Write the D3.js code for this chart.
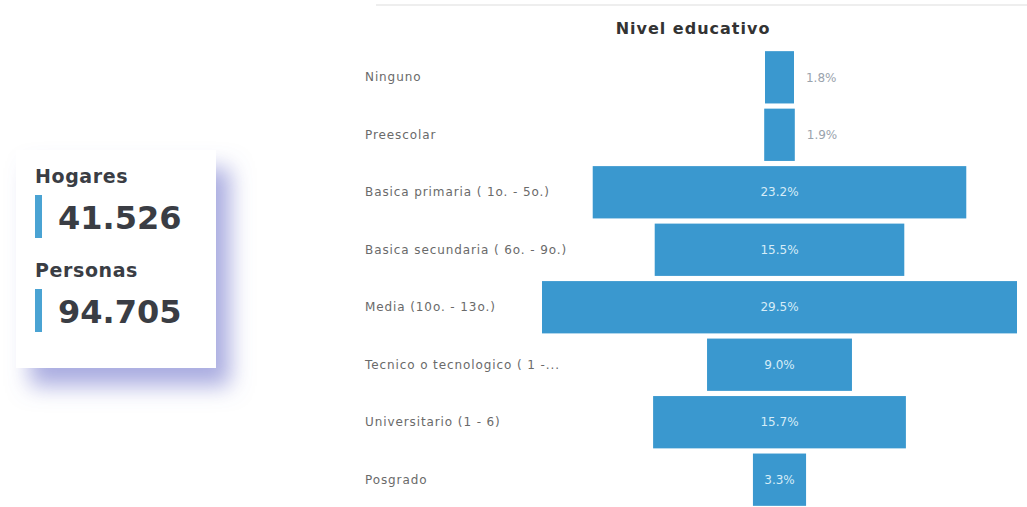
<!DOCTYPE html>
<html>
<head>
<meta charset="utf-8">
<script src="https://cdn.jsdelivr.net/npm/d3@7"></script>
<style>
  html, body { margin: 0; padding: 0; background: #ffffff; }
  svg { display: block; }
</style>
</head>
<body>
<svg id="chart" width="1027" height="507"></svg>
<script>
// ---- data ----
const kpiLabels = ["Hogares", "Personas"];
const kpiValues = ["41.526", "94.705"];

const chartTitle = "Nivel educativo";
const categories = [
  "Ninguno",
  "Preescolar",
  "Basica primaria ( 1o. - 5o.)",
  "Basica secundaria ( 6o. - 9o.)",
  "Media (10o. - 13o.)",
  "Tecnico o tecnologico ( 1 -...",
  "Universitario (1 - 6)",
  "Posgrado"
];
const values = [1.8, 1.9, 23.2, 15.5, 29.5, 9.0, 15.7, 3.3];

// ---- drawing ----
const svg = d3.select("#chart");
const barColor = "#3a98cf";

// defs: shadow for KPI card
const defs = svg.append("defs");
const f = defs.append("filter").attr("id", "shadow")
  .attr("x", "-20%").attr("y", "-20%").attr("width", "160%").attr("height", "160%");
f.append("feDropShadow")
  .attr("dx", 14).attr("dy", 18).attr("stdDeviation", 11)
  .attr("flood-color", "#6f74cc").attr("flood-opacity", 0.6);

// KPI card
const card = svg.append("g");
card.append("rect")
  .attr("x", 16).attr("y", 150).attr("width", 200).attr("height", 218)
  .attr("fill", "#ffffff").attr("filter", "url(#shadow)");

const kpiBaseY = [183, 277];
kpiLabels.forEach((lab, i) => {
  const y0 = kpiBaseY[i];
  card.append("text")
    .attr("x", 35).attr("y", y0)
    .attr("font-family", "DejaVu Sans, sans-serif")
    .attr("font-weight", "bold").attr("font-size", 19)
    .attr("letter-spacing", 0.6)
    .attr("fill", "#3a3d44").text(lab);
  card.append("rect")
    .attr("x", 35).attr("y", y0 + 12).attr("width", 7).attr("height", 43)
    .attr("fill", "#4aa3d3");
  card.append("text")
    .attr("x", 58).attr("y", y0 + 46)
    .attr("font-family", "DejaVu Sans, sans-serif")
    .attr("font-weight", "bold").attr("font-size", 32)
    .attr("fill", "#3a3d44").text(kpiValues[i]);
});

// Chart panel
const panel = svg.append("g");
panel.append("line")
  .attr("x1", 376).attr("x2", 1027).attr("y1", 5).attr("y2", 5)
  .attr("stroke", "#eeeeee").attr("stroke-width", 2);

panel.append("text")
  .attr("x", 693).attr("y", 34)
  .attr("text-anchor", "middle")
  .attr("font-family", "DejaVu Sans, sans-serif")
  .attr("font-weight", "bold").attr("font-size", 16)
  .attr("letter-spacing", 1)
  .attr("fill", "#333333").text(chartTitle);

const cx = 779.5;
const y = d3.scaleBand().domain(categories).range([50, 507]).paddingInner(0.09).paddingOuter(0.02);
const w = d3.scaleLinear().domain([0, 29.5]).range([0, 475]);
const fmt = d3.format(".1f");

// category axis labels
const yAxis = d3.axisLeft(y).tickSize(0).tickPadding(0);
const ax = panel.append("g").attr("transform", "translate(365,0)").call(yAxis);
ax.select(".domain").remove();
ax.selectAll("text")
  .attr("text-anchor", "start")
  .attr("font-family", "DejaVu Sans, sans-serif")
  .attr("font-size", 12)
  .attr("letter-spacing", 0.9)
  .attr("fill", "#6a6a6a");

const rows = panel.selectAll("g.row").data(categories).enter().append("g").attr("class", "row");
rows.append("rect")
  .attr("x", (d, i) => cx - w(values[i]) / 2)
  .attr("y", d => y(d))
  .attr("width", (d, i) => w(values[i]))
  .attr("height", y.bandwidth())
  .attr("fill", barColor);

rows.append("text")
  .attr("x", (d, i) => w(values[i]) < 40 ? cx + w(values[i]) / 2 + 12 : cx)
  .attr("y", d => y(d) + y.bandwidth() / 2)
  .attr("dy", "0.35em")
  .attr("text-anchor", (d, i) => w(values[i]) < 40 ? "start" : "middle")
  .attr("font-family", "DejaVu Sans, sans-serif")
  .attr("font-size", 12)
  .attr("fill", (d, i) => w(values[i]) < 40 ? "#9aa3ad" : "#d6ecf7")
  .text((d, i) => fmt(values[i]) + "%");
</script>
</body>
</html>
